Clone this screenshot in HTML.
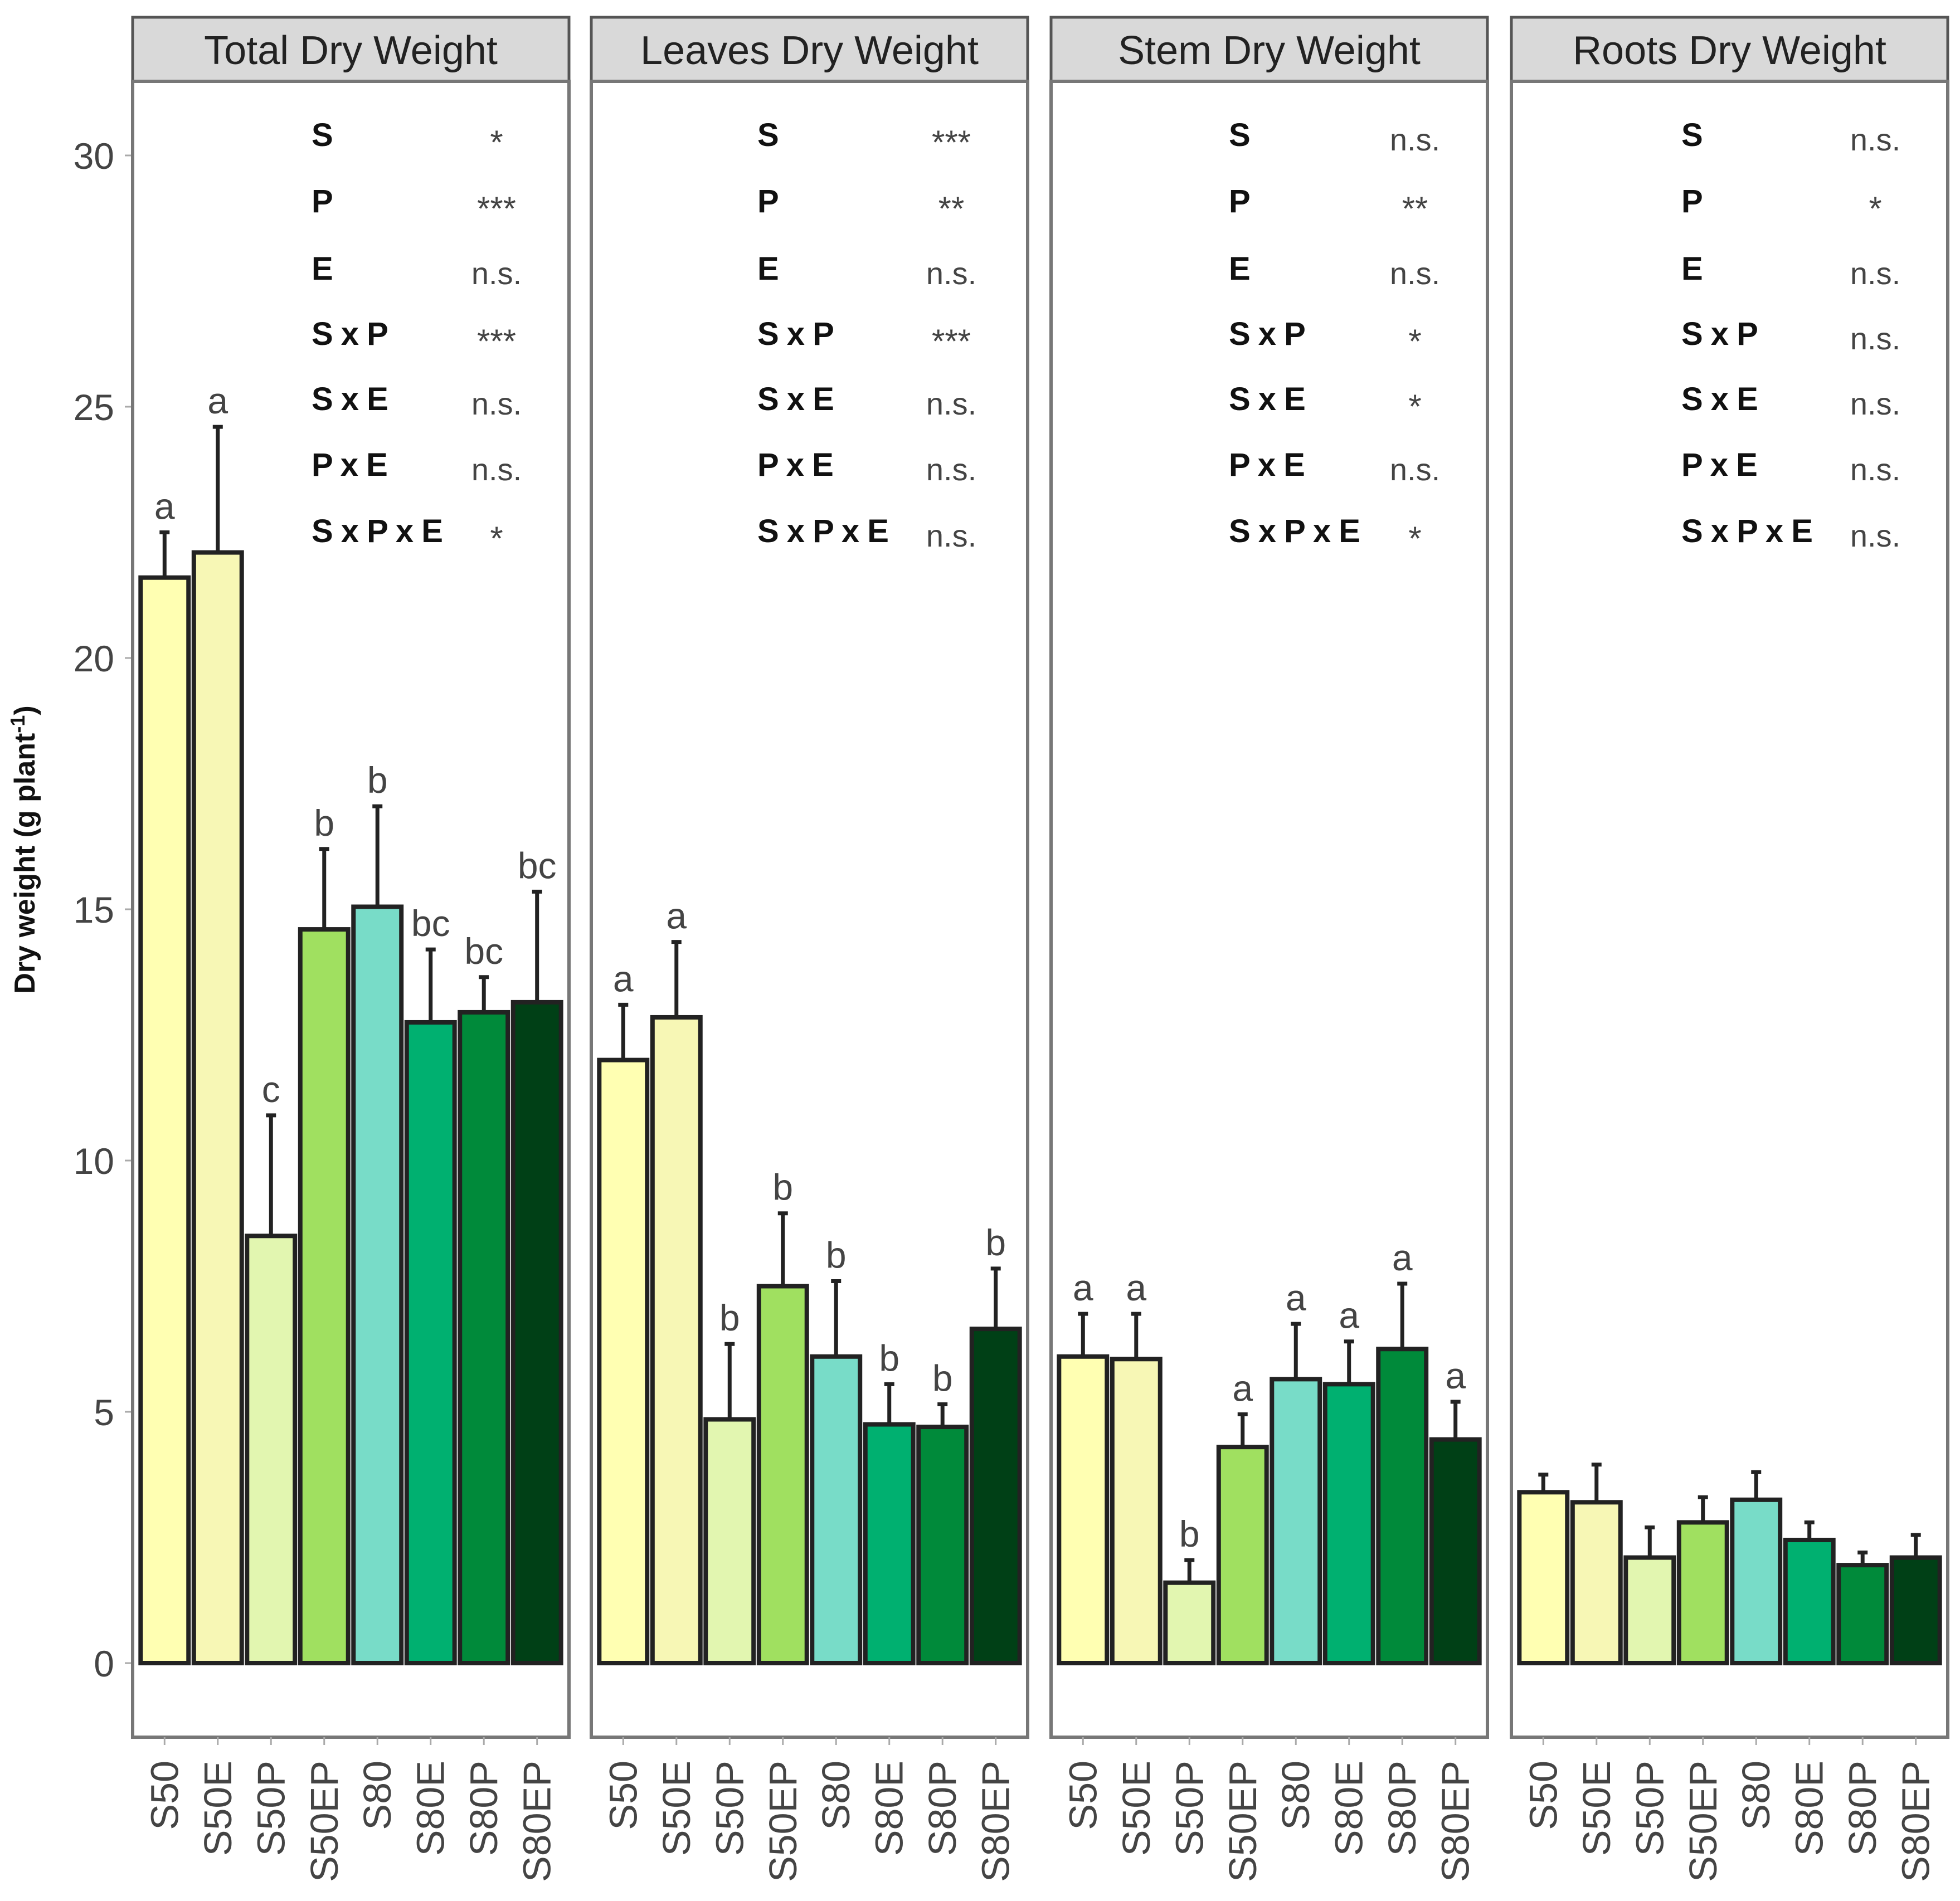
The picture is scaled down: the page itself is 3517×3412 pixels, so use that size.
<!DOCTYPE html>
<html><head><meta charset="utf-8"><style>
html,body{margin:0;padding:0;background:#fff;}
svg{display:block;font-family:"Liberation Sans",Arial,sans-serif;}
</style></head><body>
<svg id="chart" width="3517" height="3412" viewBox="0 0 3517 3412" xmlns="http://www.w3.org/2000/svg">
<text transform="translate(62,1525) rotate(-90)" text-anchor="middle" font-size="52" font-weight="bold" fill="#111">Dry weight (g plant<tspan dy="-18" font-size="36">-1</tspan><tspan dy="18">)</tspan></text>
</svg>
<script>
const categories = ["S50","S50E","S50P","S50EP","S80","S80E","S80P","S80EP"];
const panelTitles = ["Total Dry Weight","Leaves Dry Weight","Stem Dry Weight","Roots Dry Weight"];
const totalValues = [21.6,22.1,8.5,14.6,15.05,12.75,12.95,13.15];
const totalErrors = [0.9,2.5,2.4,1.6,2.0,1.45,0.7,2.2];
const totalLetters = ["a","a","c","b","b","bc","bc","bc"];
const leavesValues = [12.0,12.85,4.85,7.5,6.1,4.75,4.7,6.65];
const leavesErrors = [1.1,1.5,1.5,1.45,1.5,0.8,0.45,1.2];
const leavesLetters = ["a","a","b","b","b","b","b","b"];
const stemValues = [6.1,6.05,1.6,4.3,5.65,5.55,6.25,4.45];
const stemErrors = [0.85,0.9,0.45,0.65,1.1,0.85,1.3,0.75];
const stemLetters = ["a","a","b","a","a","a","a","a"];
const rootsValues = [3.4,3.2,2.1,2.8,3.25,2.45,1.95,2.1];
const rootsErrors = [0.35,0.75,0.6,0.5,0.55,0.35,0.25,0.45];
const rootsLetters = ["","","","","","","",""];
const effectLabels = ["S","P","E","S x P","S x E","P x E","S x P x E"];
const totalSig = ["*","***","n.s.","***","n.s.","n.s.","*"];
const leavesSig = ["***","**","n.s.","***","n.s.","n.s.","n.s."];
const stemSig = ["n.s.","**","n.s.","*","*","n.s.","*"];
const rootsSig = ["n.s.","*","n.s.","n.s.","n.s.","n.s.","n.s."];
const yTicks = [0,5,10,15,20,25,30];

const colors = ["#FFFFB2","#F7F7B5","#E2F6B0","#A0E060","#78DCC8","#00B070","#008A3A","#004016"];
const svg = document.getElementById('chart');
const NS = "http://www.w3.org/2000/svg";
function mk(tag, attrs, parent){const e=document.createElementNS(NS,tag);for(const k in attrs)e.setAttribute(k,attrs[k]);(parent||svg).appendChild(e);return e;}
const panelLefts=[238,1061,1886,2712], panelW=783, stripTop=31, stripBot=146, panelBot=3118;
function yScale(v){return 2985 - v*90.2;}
function xScale(p,i){return panelLefts[p] + (i+1-0.4)*(panelW/8.2);}
const bw = 0.9*panelW/8.2;
const allVals=[totalValues,leavesValues,stemValues,rootsValues];
const allErr=[totalErrors,leavesErrors,stemErrors,rootsErrors];
const allLet=[totalLetters,leavesLetters,stemLetters,rootsLetters];
const allSig=[totalSig,leavesSig,stemSig,rootsSig];
const labelOff=[321,298,319,305], sigOff=[653,646,653,653];
const rowY=[242,361,482,599,716,834,953];

yTicks.forEach(t=>{
  const y=yScale(t);
  const l=mk('line',{x1:224,x2:238,y1:y,y2:y,stroke:'#aaa','stroke-width':3});
  
  const tx=mk('text',{x:205,y:y+24,'text-anchor':'end','font-size':66,fill:'#444'});
  tx.textContent=t;
  
});

for(let p=0;p<4;p++){
  const L=panelLefts[p];
  const g=mk('g',{});
  
  
  const st=mk('rect',{x:L,y:stripTop,width:panelW,height:stripBot-stripTop,fill:'#d9d9d9',stroke:'#555','stroke-width':5},g);
  
  const tt=mk('text',{x:L+panelW/2,y:stripTop+84,'text-anchor':'middle','font-size':72,fill:'#222'},g);
  tt.textContent=panelTitles[p];
  
  const bx=mk('rect',{x:L,y:stripBot,width:panelW,height:panelBot-stripBot,fill:'none',stroke:'#777','stroke-width':6},g);
  
  effectLabels.forEach((lab,r)=>{
    const a=mk('text',{x:L+labelOff[p],y:rowY[r]+20,'font-size':58,'font-weight':'bold','letter-spacing':'3','word-spacing':'-8',fill:'#111'},g);
    a.textContent=lab;
    
    const s=allSig[p][r];
    const b=mk('text',{x:L+sigOff[p],y:rowY[r]+(s==='n.s.'?28:34),'text-anchor':'middle','font-size':s==='n.s.'?56:60,fill:'#444'},g);
    b.textContent=s;
    
  });
  categories.forEach((c,i)=>{
    const cx=xScale(p,i), v=allVals[p][i], e=allErr[p][i];
    const top=yScale(v), base=yScale(0);
    const eb=mk('line',{x1:cx,x2:cx,y1:top,y2:yScale(v+e),stroke:'#222','stroke-width':7},g);
    
    const cap=mk('line',{x1:cx-9,x2:cx+9,y1:yScale(v+e),y2:yScale(v+e),stroke:'#222','stroke-width':7},g);
    
    const r=mk('rect',{x:cx-bw/2,y:top,width:bw,height:base-top,fill:colors[i],stroke:'#222','stroke-width':8},g);
    
    if(allLet[p][i]){
      const lt=mk('text',{x:cx,y:yScale(v+e)-24,'text-anchor':'middle','font-size':66,fill:'#444'},g);
      lt.textContent=allLet[p][i];
      
    }
    const tk=mk('line',{x1:cx,x2:cx,y1:panelBot,y2:panelBot+14,stroke:'#aaa','stroke-width':3},g);
    
    const xl=mk('text',{transform:`translate(${cx+24},${panelBot+42}) rotate(-90)`,'text-anchor':'end','font-size':70,fill:'#444'},g);
    xl.textContent=c;
    
  });
}
</script>
</body></html>
